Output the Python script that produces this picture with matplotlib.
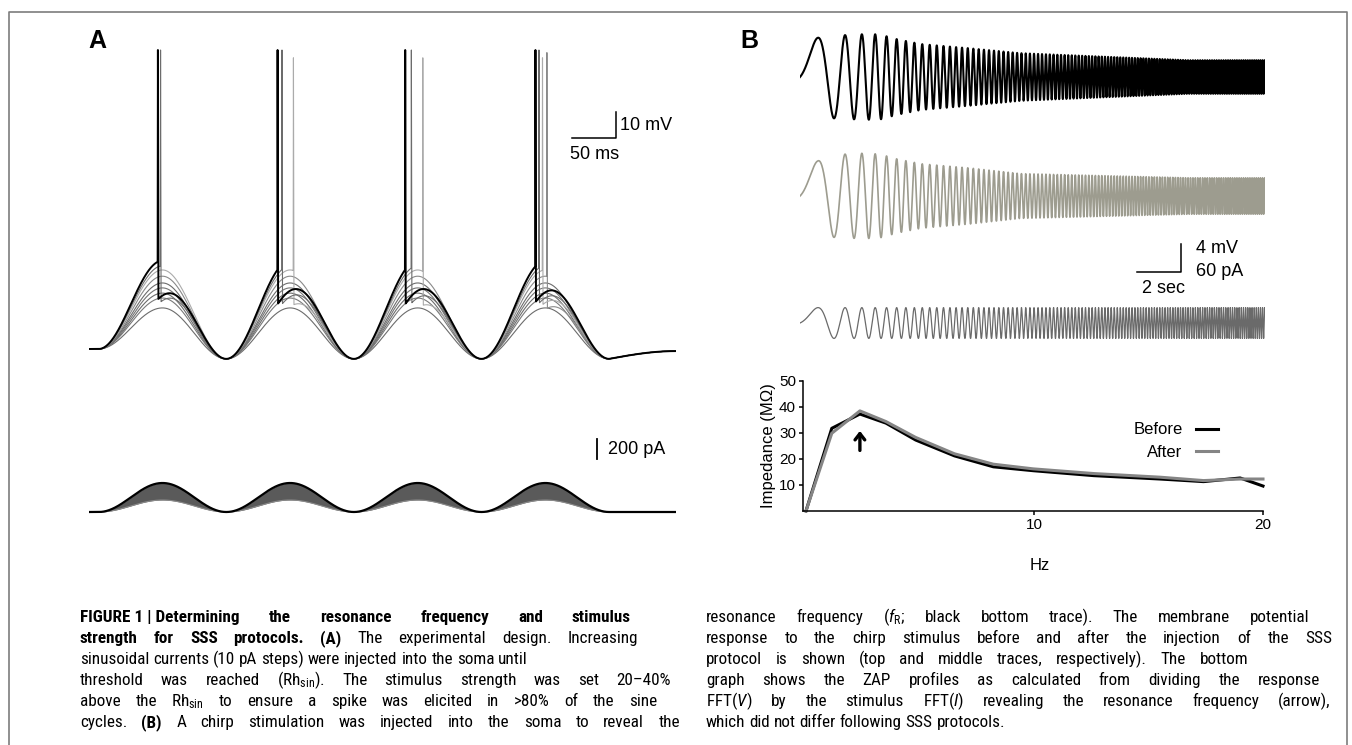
import numpy as np
import matplotlib
matplotlib.use("Agg")
import matplotlib.pyplot as plt
from matplotlib import font_manager as fm
from matplotlib.lines import Line2D

W, H = 1352, 745

available = {f.name for f in fm.fontManager.ttflist}
SANS = 'Liberation Sans' if 'Liberation Sans' in available else 'DejaVu Sans'
CAP = SANS
for cand in ['Liberation Sans Narrow', 'Roboto Condensed', 'Open Sans Condensed', 'Noto Sans Condensed']:
    if cand in available:
        CAP = cand
        break
plt.rcParams['font.family'] = [SANS, 'DejaVu Sans']
plt.rcParams['mathtext.fontset'] = 'custom'
plt.rcParams['mathtext.rm'] = CAP
plt.rcParams['mathtext.it'] = CAP + ':italic'
plt.rcParams['mathtext.bf'] = CAP + ':bold'

# ---------------- Panel A data ----------------
trough_ms = [11, 156, 301, 446, 591]          # troughs of the sine current cycles
end_ms = 667
rest_mV = 0.0
trough_mV = -3.8
end_mV = -0.8
peak_mV = [34.0, 32.0, 30.4, 28.0, 25.4, 23.5, 21.5, 19.6, 15.8]
spike_ms = [[78, 214, 359, 507], [81, 219, 366, 511], [232, 379, 515], [520],
            [], [], [], [], []]
spike_top_mV = [115, 115, 112, 114, 0, 0, 0, 0, 0]
trace_color = ['black', '#6c6c6c', '#ababab', '#8a8a8a', '#6c6c6c',
               '#747474', '#6c6c6c', '#7a7a7a', '#6c6c6c']
ahp_frac = 0.39
ahp_tau_ms = 60.0
stim_pA = [120, 140, 160, 185, 205, 225, 250, 270, 290]

# ---------------- Panel B data ----------------
chirp_f0_hz = 0.1
chirp_rate_hz_per_s = 0.5
chirp_dur_s = 21.1
env_t_s = [0, 0.8, 1.5, 2.8, 3.6, 4.4, 5.5, 7.7, 10.0, 13.8, 17.6, 21.1]
before_amp_mV = [5.6, 5.6, 5.9, 6.1, 6.1, 5.4, 4.7, 4.1, 3.4, 2.9, 2.4, 2.4]
after_amp_mV = [4.8, 5.0, 5.9, 6.1, 6.0, 5.3, 4.6, 4.0, 3.2, 2.9, 2.6, 2.6]
stim_amp_pA = 33

zap_hz = [0, 1.13, 2.36, 3.5, 4.8, 6.5, 8.2, 9.95, 12.6, 15.5, 17.4, 19.0, 20.0]
zap_before = [0, 31.8, 37.3, 33.8, 27.3, 21.2, 17.0, 15.5, 13.6, 12.3, 11.3, 12.7, 9.6]
zap_after = [0, 29.9, 38.5, 34.4, 28.3, 22.0, 18.0, 16.2, 14.4, 13.0, 11.7, 12.3, 12.3]
resonance_hz = 2.36

# '~' keeps words together (a normal space that is not stretched)
caption_left = [
    [("FIGURE~1~|~Determining the resonance frequency and stimulus", True)],
    [("strength for SSS protocols. (A)", True), ("The experimental design. Increasing", False)],
    [("sinusoidal currents (10 pA steps) were injected into the soma until", False)],
    [("threshold was reached (Rh$_{\\mathrm{sin}}$). The stimulus strength was set 20–40%", False)],
    [("above the Rh$_{\\mathrm{sin}}$ to ensure a spike was elicited in >80% of the sine", False)],
    [("cycles.", False), ("(B)", True), ("A chirp stimulation was injected into the soma to reveal the", False)],
]
caption_right = [
    [("resonance frequency ($f_{\\mathrm{R}}$; black bottom trace). The membrane potential", False)],
    [("response to the chirp stimulus before and after the injection of the SSS", False)],
    [("protocol is shown (top and middle traces, respectively). The bottom", False)],
    [("graph shows the ZAP profiles as calculated from dividing the response", False)],
    [("FFT($V$) by the stimulus FFT($I$) revealing the resonance frequency (arrow),", False)],
    [("which did not differ following SSS protocols.", False)],
]
left_ends = [631, 638, None, 671, 657, 680]      # None: ragged line, natural spacing
right_ends = [1309, 1332, 1248, 1320, 1330, None]
line_y = [622, 643, 664, 685, 706, 727]
CAP_SIZE = 12.3

fig = plt.figure(figsize=(W / 100, H / 100), dpi=100)


def px_axes(x0, y0, x1, y1):
    ax = fig.add_axes([x0 / W, 1 - y1 / H, (x1 - x0) / W, (y1 - y0) / H])
    return ax


def ftext(x, y, s, **kw):
    return fig.text(x / W, 1 - y / H, s, **kw)


# border
fig.add_artist(Line2D([9 / W, 9 / W, 1347 / W, 1347 / W], [0, 1 - 12 / H, 1 - 12 / H, 0],
                      transform=fig.transFigure, color='#7d7d7d', lw=1.2))

# ================= Panel A =================
t = np.arange(0, end_ms + 0.025, 0.05)


def hump_voltage(P):
    V = np.full(t.shape, rest_mV)
    for k in range(len(trough_ms) - 1):
        a, b = trough_ms[k], trough_ms[k + 1]
        m = (t >= a) & (t < b)
        u = (t[m] - a) / (b - a)
        s = np.sin(np.pi * u) ** 2
        left = rest_mV if k == 0 else trough_mV
        floor = np.where(u < 0.5, left, trough_mV)
        V[m] = floor + (P - floor) * s
    m = t >= trough_ms[-1]
    V[m] = trough_mV + (end_mV - trough_mV) * np.sin(
        0.5 * np.pi * (t[m] - trough_ms[-1]) / (end_ms - trough_ms[-1]))
    return V


def with_spikes(V, spikes, top):
    base = V.copy()
    V = V.copy()
    for ts in spikes:
        k = np.searchsorted(trough_ms, ts) - 1
        nxt = trough_ms[k + 1]
        m = (t > ts) & (t < nxt)
        decay = 1 - ahp_frac * np.exp(-(t[m] - ts) / ahp_tau_ms)
        V[m] = trough_mV + (base[m] - trough_mV) * decay
    extra_t, extra_v = [], []
    keep = np.ones(t.shape, bool)
    for ts in spikes:
        keep &= ~((t > ts) & (t < ts + 0.9))
        extra_t += [ts, ts + 0.3]
        extra_v += [np.interp(ts, t, base), top]
    tt = np.concatenate([t[keep], extra_t])
    vv = np.concatenate([V[keep], extra_v])
    order = np.argsort(tt, kind='stable')
    return tt[order], vv[order]


ax_v = px_axes(89, 30, 676, 372)
ax_v.set_xlim(0, end_ms)
ax_v.set_ylim(-8.85, 122.7)
ax_v.axis('off')
for j in range(len(peak_mV) - 1, -1, -1):
    V = hump_voltage(peak_mV[j])
    tt, vv = with_spikes(V, spike_ms[j], spike_top_mV[j])
    ax_v.plot(tt, vv, color=trace_color[j], lw=1.4 if j == 0 else 0.8,
              solid_joinstyle='round', zorder=3 if j == 0 else 2)

# scale bar 50 ms / 10 mV
ax_v.plot([549, 599, 599], [81, 81, 91], color='black', lw=1.1, clip_on=False)
ax_v.text(603, 86, '10 mV', fontsize=13, ha='left', va='center')
ax_v.text(574, 75, '50 ms', fontsize=13, ha='center', va='center')

# current traces
ax_i = px_axes(89, 420, 676, 530)
ax_i.set_xlim(0, end_ms)
ax_i.set_ylim(-180, 920)
ax_i.axis('off')


def current(A):
    I = np.zeros(t.shape)
    m = (t >= trough_ms[0]) & (t <= trough_ms[-1])
    u = (t[m] - trough_ms[0]) / (trough_ms[1] - trough_ms[0])
    I[m] = A * np.sin(np.pi * u) ** 2
    return I


I_lo = current(min(stim_pA))
I_hi = current(max(stim_pA))
ax_i.fill_between(t, I_lo, I_hi, color='#5a5a5a', lw=0)
ax_i.plot(t, I_lo, color='#8a8a8a', lw=0.8)
ax_i.plot(t, I_hi, color='black', lw=1.6)
ax_i.plot([577, 577], [530, 730], color='black', lw=1.3)
ax_i.text(590, 630, '200 pA', fontsize=13, ha='left', va='center')

ftext(88, 48, 'A', fontsize=18, fontweight='bold', ha='left', va='baseline')

# ================= Panel B =================
ftext(740, 48, 'B', fontsize=18, fontweight='bold', ha='left', va='baseline')

tb = np.linspace(0, chirp_dur_s, 40001)
phase = 2 * np.pi * (chirp_f0_hz * tb + 0.5 * chirp_rate_hz_per_s * tb ** 2)
v_before = np.interp(tb, env_t_s, before_amp_mV) * np.sin(phase)
v_after = np.interp(tb, env_t_s, after_amp_mV) * np.sin(phase)
i_stim = stim_amp_pA * np.sin(phase)

ax_b1 = px_axes(800, 20, 1265, 140)
ax_b1.set_xlim(0, chirp_dur_s)
ax_b1.set_ylim(-9.0, 8.14)
ax_b1.axis('off')
ax_b1.plot(tb, v_before, color='black', lw=1.5)

ax_b2 = px_axes(800, 140, 1265, 250)
ax_b2.set_xlim(0, chirp_dur_s)
ax_b2.set_ylim(-7.71, 8.0)
ax_b2.axis('off')
ax_b2.plot(tb, v_after, color='#9d9c8f', lw=1.2)
ax_b2.plot([15.27, 17.27, 17.27], [-10.86, -10.86, -6.86], color='black', lw=1.1, clip_on=False)
ax_b2.text(17.95, -7.43, '4 mV', fontsize=13, ha='left', va='center', clip_on=False)
ax_b2.text(17.95, -10.71, '60 pA', fontsize=13, ha='left', va='center', clip_on=False)
ax_b2.text(16.5, -13.14, '2 sec', fontsize=13, ha='center', va='center', clip_on=False)

ax_b3 = px_axes(800, 295, 1265, 350)
ax_b3.set_xlim(0, chirp_dur_s)
ax_b3.set_ylim(-57.8, 60)
ax_b3.axis('off')
ax_b3.plot(tb, i_stim, color='#6a6a6a', lw=0.9)

# ZAP profile
ax_z = px_axes(803, 381, 1263, 511)
ax_z.set_xlim(-0.13, 20)
ax_z.set_ylim(0, 50)
for s in ['top', 'right']:
    ax_z.spines[s].set_visible(False)
for s in ['left', 'bottom']:
    ax_z.spines[s].set_linewidth(1.1)
ax_z.set_yticks([10, 20, 30, 40, 50])
ax_z.set_xticks([10, 20])
ax_z.tick_params(direction='out', length=3, width=1.1, labelsize=11, pad=2)
lb, = ax_z.plot(zap_hz, zap_before, color='black', lw=2.2, solid_joinstyle='round', clip_on=False)
la, = ax_z.plot(zap_hz, zap_after, color='#858585', lw=2.2, solid_joinstyle='round', clip_on=False)
ax_z.annotate('', xy=(resonance_hz, 30.8), xytext=(resonance_hz, 23.3),
              arrowprops=dict(arrowstyle='->,head_length=0.45,head_width=0.35', lw=2.4,
                              color='black', shrinkA=0, shrinkB=0))
ax_z.legend([lb, la], ['Before', 'After'], markerfirst=False, frameon=False, fontsize=12,
            handlelength=1.3, handletextpad=0.8, borderpad=0, labelspacing=0.45,
            loc='upper left', bbox_to_anchor=(1125 / W, 1 - 414 / H),
            bbox_transform=fig.transFigure)
ftext(768, 446, 'Impedance (MΩ)', fontsize=12, rotation=90, ha='center', va='center')
ftext(1040, 566, 'Hz', fontsize=12, ha='center', va='center')

# ================= Caption =================
renderer = fig.canvas.get_renderer()


def split_words(segments):
    words = []
    for text, bold in segments:
        for w in text.split(' '):
            if w:
                words.append((w.replace('~', ' '), bold))
    return words


def make_word(w, bold, x, y):
    return ftext(x, y, w, fontsize=CAP_SIZE, family=[CAP, 'DejaVu Sans'],
                 fontweight='bold' if bold else 'normal', ha='left', va='baseline')


probe1 = make_word('a a', False, 0, -50)
probe2 = make_word('aa', False, 0, -50)
SPACE = probe1.get_window_extent(renderer).width - probe2.get_window_extent(renderer).width
probe1.remove()
probe2.remove()


def place_line(x0, x1, y, segments):
    words = split_words(segments)
    objs, widths = [], []
    for w, bold in words:
        tx = make_word(w, bold, x0, y)
        objs.append(tx)
        widths.append(tx.get_window_extent(renderer).width)
    if x1 is None:
        gap = SPACE
    else:
        gap = max((x1 - x0 - sum(widths)) / max(len(words) - 1, 1), SPACE * 0.6)
    x = x0
    for tx, wd in zip(objs, widths):
        tx.set_position((x / W, 1 - y / H))
        x += wd + gap


for seg, xe, y in zip(caption_left, left_ends, line_y):
    place_line(80, xe, y, seg)
for seg, xe, y in zip(caption_right, right_ends, line_y):
    place_line(706, xe, y, seg)

fig.savefig('out.png', dpi=100)
